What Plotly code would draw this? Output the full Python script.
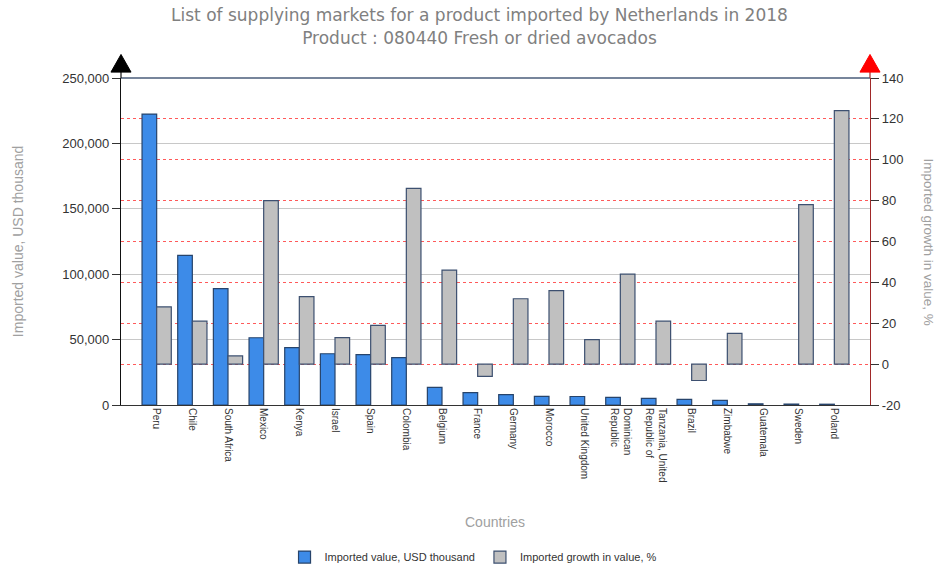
import plotly.graph_objects as go

countries = ["Peru", "Chile", "South Africa", "Mexico", "Kenya", "Israel", "Spain",
             "Colombia", "Belgium", "France", "Germany", "Morocco", "United Kingdom",
             "Dominican<br>Republic", "Tanzania, United<br>Republic of", "Brazil",
             "Zimbabwe", "Guatemala", "Sweden", "Poland"]
imported_value = [222400, 114400, 88900, 51400, 43800, 39200, 38500, 36200, 13500,
                  9400, 7900, 6600, 6500, 5900, 5100, 4300, 3600, 900, 700, 600]
growth_pct = [28, 21, 4, 80, 33, 13, 19, 86, 46, -6, 32, 36, 12, 44, 21, -8, 15,
              None, 78, 124]
y2_ticks = [-20, 0, 20, 40, 60, 80, 100, 120, 140]

BLUE = "#3d8be8"
GRAY = "#c0c0c0"

fig = go.Figure()
fig.add_trace(go.Bar(
    x=countries, y=imported_value, name="Imported value, USD thousand",
    width=0.41, offset=-0.41,
    marker=dict(color=BLUE, line=dict(color="#27446b", width=1.2)),
))
fig.add_trace(go.Bar(
    x=countries, y=growth_pct, name="Imported growth in value, %", yaxis="y2",
    width=0.41, offset=0,
    marker=dict(color=GRAY, line=dict(color="#3d5070", width=1.2)),
))

fig.update_layout(
    width=937, height=564,
    margin=dict(l=121, r=67, t=78, b=159, autoexpand=False),
    paper_bgcolor="white", plot_bgcolor="white",
    font=dict(family="Liberation Sans, Arial, sans-serif", color="#333333"),
    title=dict(
        text="List of supplying markets for a product imported by Netherlands in 2018<br>Product : 080440 Fresh or dried avocados",
        font=dict(family="DejaVu Sans, Verdana, sans-serif", size=17, color="#808080"),
        x=0.4786, xref="paper", xanchor="center", y=0.962, yref="container", yanchor="top",
    ),
    xaxis=dict(
        type="category", categoryorder="array", categoryarray=countries,
        range=[-1, 20], tickangle=90, tickfont=dict(size=10, color="#333333"),
        showline=True, linecolor="#333333", linewidth=1, ticks="", showgrid=False,
        zeroline=False,
    ),
    yaxis=dict(
        range=[0, 250000], dtick=50000, tickformat=",",
        tickfont=dict(size=13, color="#333333"),
        showline=True, linecolor="#111111", linewidth=1.2,
        ticks="outside", ticklen=8, tickcolor="#333333",
        showgrid=True, gridcolor="#c8c8c8", gridwidth=1, zeroline=False,
    ),
    yaxis2=dict(
        overlaying="y", side="right", range=[-20, 140],
        tickmode="array", tickvals=y2_ticks, ticktext=[str(v) for v in y2_ticks],
        tickfont=dict(size=13, color="#333333"),
        showline=True, linecolor="#a02828", linewidth=1.2,
        ticks="outside", ticklen=8, tickcolor="#333333",
        showgrid=True, gridcolor="#ff5a5a", gridwidth=1, griddash="dot",
        zeroline=False,
    ),
    legend=dict(
        orientation="h", x=0.47, xanchor="center", y=-0.465, yanchor="middle",
        font=dict(size=11, color="#333333"), traceorder="normal",
    ),
    showlegend=True,
    bargap=0.18,
)

# axis titles
fig.add_annotation(text="Imported value, USD thousand", xref="paper", yref="paper",
                   x=-0.138, y=0.5, xanchor="center", yanchor="middle", textangle=-90,
                   showarrow=False, font=dict(size=14, color="#a0a0a0"))
fig.add_annotation(text="Imported growth in value, %", xref="paper", yref="paper",
                   x=1.0775, y=0.5, xanchor="center", yanchor="middle", textangle=90,
                   showarrow=False, font=dict(size=13.5, color="#a0a0a0"))
fig.add_annotation(text="Countries", xref="paper", yref="paper",
                   x=0.499, y=-0.359, xanchor="center", yanchor="middle",
                   showarrow=False, font=dict(size=14, color="#a0a0a0"))

# top border and arrows on both axes
fig.add_shape(type="line", xref="paper", yref="paper", x0=0, x1=1, y0=1, y1=1,
              line=dict(color="#4a5d7a", width=1.5))
fig.add_shape(type="line", xref="paper", yref="paper", x0=0, x1=0, y0=1, y1=1.02,
              line=dict(color="#111111", width=1.2))
fig.add_shape(type="line", xref="paper", yref="paper", x0=1, x1=1, y0=1, y1=1.02,
              line=dict(color="#a02828", width=1.2))
fig.add_shape(type="path", xref="paper", yref="paper",
              path="M -0.0134,1.018 L 0.0134,1.018 L 0,1.072 Z",
              fillcolor="black", line=dict(color="black", width=1))
fig.add_shape(type="path", xref="paper", yref="paper",
              path="M 0.9866,1.018 L 1.0134,1.018 L 1,1.072 Z",
              fillcolor="#ff0000", line=dict(color="#ff0000", width=1))

fig.write_html("out.html", config={"displayModeBar": False},
               post_script="document.body.style.margin='0px';")
